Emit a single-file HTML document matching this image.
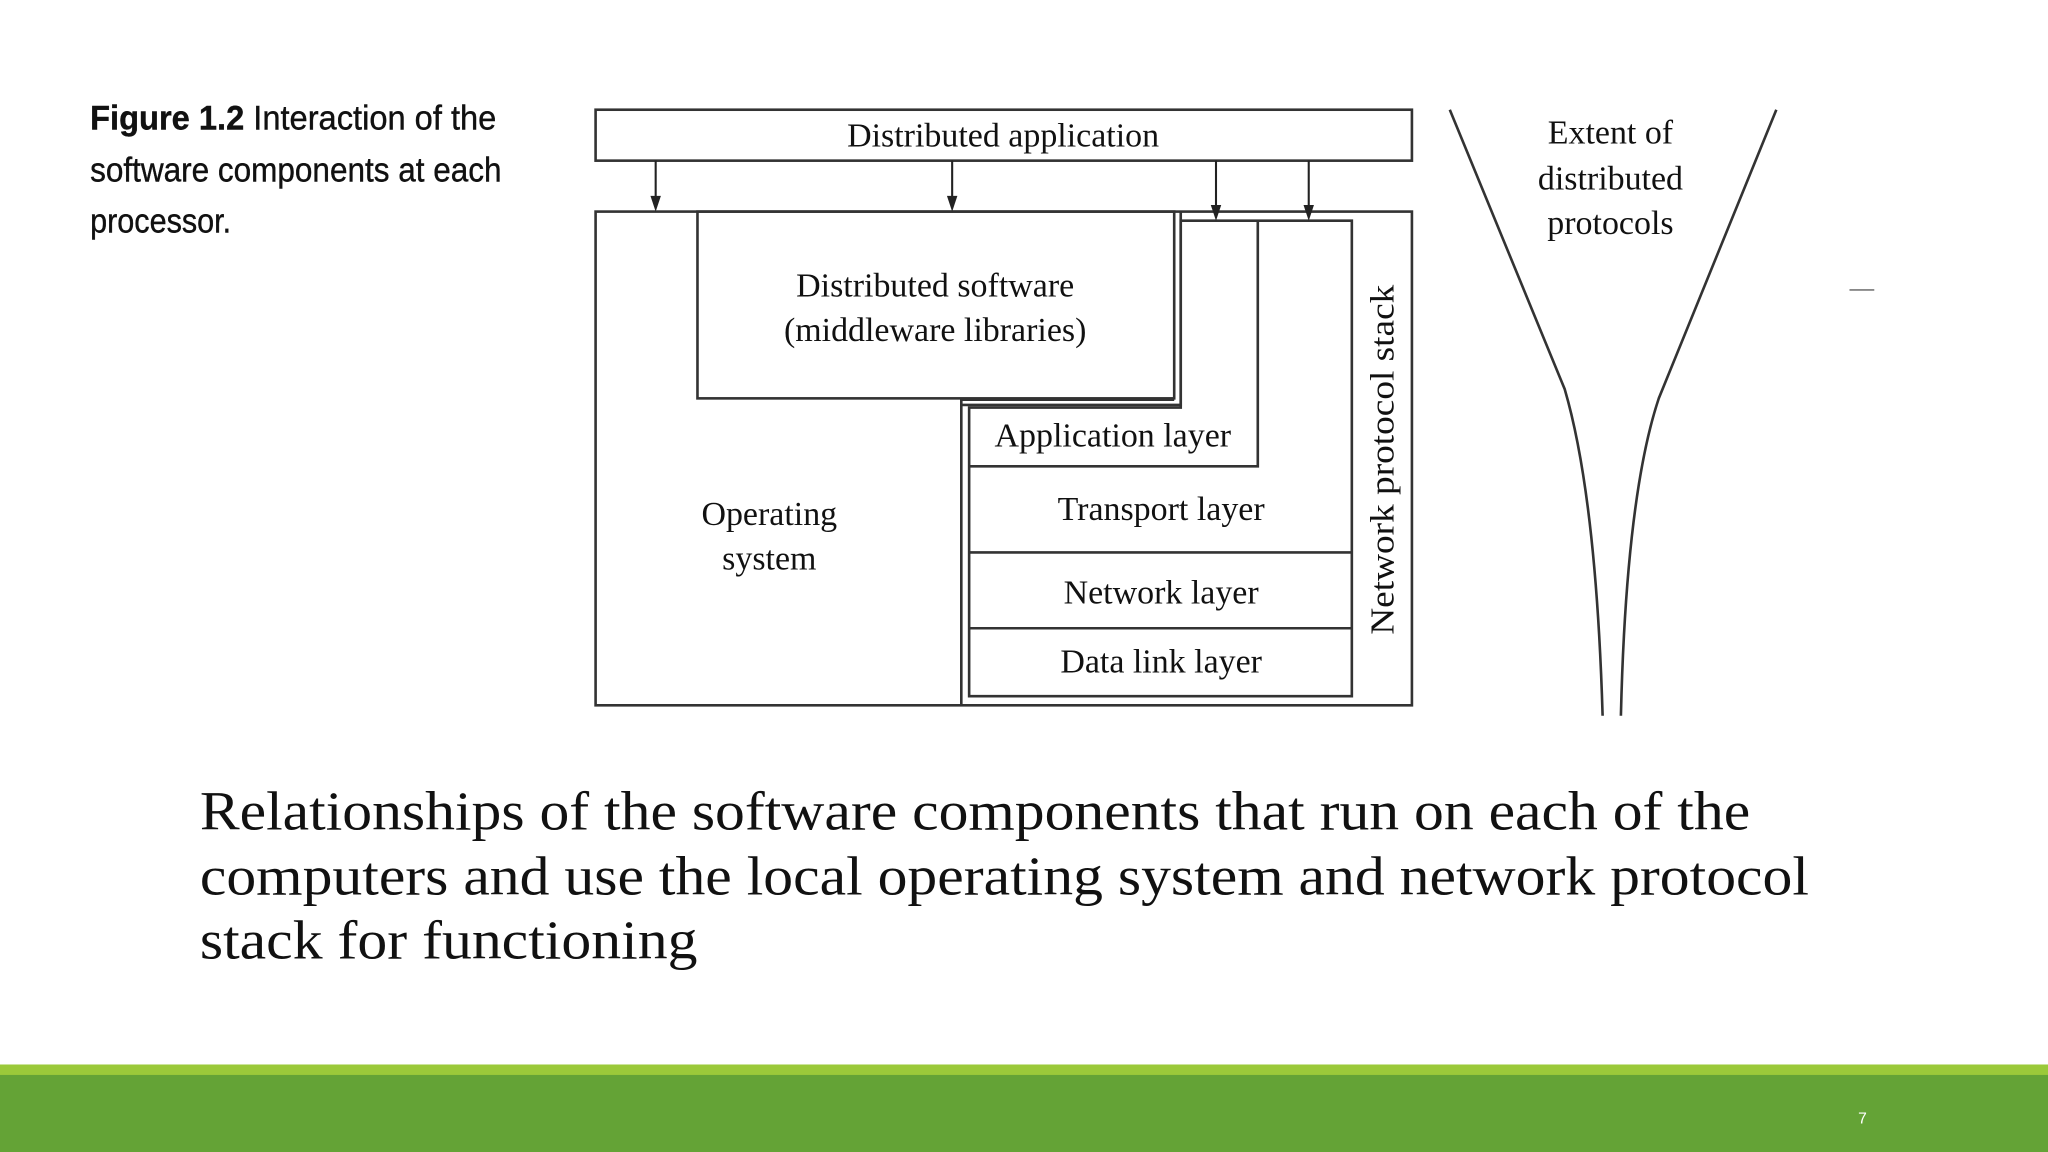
<!DOCTYPE html>
<html><head><meta charset="utf-8"><style>
html,body{margin:0;padding:0;background:#fff;}
svg{display:block;}
</style></head><body>
<svg width="2048" height="1152" viewBox="0 0 1568 882" preserveAspectRatio="none" xmlns="http://www.w3.org/2000/svg">
<rect width="1568" height="882" fill="#fff"/>
<g font-family="Liberation Sans, sans-serif" font-size="26" fill="#111" stroke="#111" stroke-width="0.3">
<text x="69" y="99" textLength="311" lengthAdjust="spacingAndGlyphs"><tspan font-weight="bold">Figure 1.2</tspan>  Interaction of the</text>
<text x="69" y="139" textLength="315" lengthAdjust="spacingAndGlyphs">software components at each</text>
<text x="69" y="178" textLength="108" lengthAdjust="spacingAndGlyphs">processor.</text>
</g>
<g fill="none" stroke="#333" stroke-width="2">
<rect x="456" y="84" width="625" height="39"/>
<rect x="456" y="162" width="625" height="378"/>
<rect x="534" y="162" width="365" height="143"/>
<path d="M736,540 V306 H899"/>
<path d="M736,310 H904 V162"/>
<path d="M742,533 V312 H904 V169 H1035 V533 Z"/>
<path d="M742,357 H963 V169"/>
<path d="M742,423 H1035 M742,481 H1035"/>
<path d="M1110,84 L1198,298 Q1222,380 1227,548"/>
<path d="M1360,84 L1270,305 Q1245,380 1241,548"/>
<path d="M1416,222 H1435" stroke-width="1.2" stroke="#777"/>
</g>
<g stroke="#222" stroke-width="1.6">
<line x1="502" y1="123" x2="502" y2="152"/>
<line x1="729" y1="123" x2="729" y2="152"/>
<line x1="931" y1="123" x2="931" y2="159"/>
<line x1="1002" y1="123" x2="1002" y2="159"/>
</g>
<g fill="#222">
<path d="M498,150 L506,150 L502,162 Z"/>
<path d="M725,150 L733,150 L729,162 Z"/>
<path d="M927,157 L935,157 L931,169 Z"/>
<path d="M998,157 L1006,157 L1002,169 Z"/>
</g>
<g font-family="Liberation Serif, serif" font-size="26" fill="#111" text-anchor="middle">
<text x="768" y="112">Distributed application</text>
<text x="716" y="227">Distributed software</text>
<text x="716" y="261">(middleware libraries)</text>
<text x="589" y="402">Operating</text>
<text x="589" y="436">system</text>
<text x="852" y="342">Application layer</text>
<text x="889" y="398">Transport layer</text>
<text x="889" y="462">Network layer</text>
<text x="889" y="515">Data link layer</text>
<text x="1233" y="110">Extent of</text>
<text x="1233" y="145">distributed</text>
<text x="1233" y="179">protocols</text>
<text transform="translate(1067,352) rotate(-90)" textLength="268" lengthAdjust="spacingAndGlyphs">Network protocol stack</text>
</g>
<g font-family="Liberation Serif, serif" font-size="42" fill="#111">
<text x="153" y="635" textLength="1187" lengthAdjust="spacingAndGlyphs">Relationships of the software components that run on each of the</text>
<text x="153" y="685" textLength="1232" lengthAdjust="spacingAndGlyphs">computers and use the local operating system and network protocol</text>
<text x="153" y="734" textLength="381" lengthAdjust="spacingAndGlyphs">stack for functioning</text>
</g>
<rect x="0" y="815" width="1568" height="9" fill="#9bc93a"/>
<rect x="0" y="823" width="1568" height="59" fill="#64a336"/>
<text x="1426" y="860" font-family="Liberation Sans, sans-serif" font-size="12" fill="#fff" text-anchor="middle">7</text>
</svg>
</body></html>
